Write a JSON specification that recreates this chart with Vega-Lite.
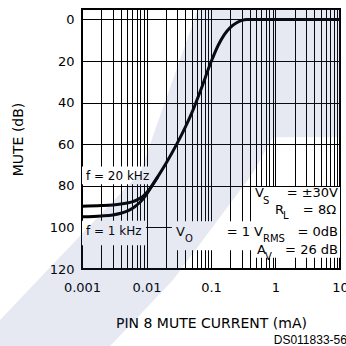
{
  "$schema": "https://vega.github.io/schema/vega-lite/v6.json",
  "width": 258,
  "height": 260,
  "autosize": {"type": "none"},
  "padding": {"left": 82, "top": 9, "right": 6, "bottom": 77},
  "background": "white",
  "config": {
    "view": {"stroke": "#000", "strokeWidth": 2},
    "font": "DejaVu Sans",
    "text": {"font": "DejaVu Sans", "color": "#000"}
  },
  "datasets": {
    "curves": [
      {"f": "20 kHz", "I": 0.001, "dB": 89.8},
      {"f": "20 kHz", "I": 0.002, "dB": 89.5},
      {"f": "20 kHz", "I": 0.003, "dB": 89.2},
      {"f": "20 kHz", "I": 0.004, "dB": 88.8},
      {"f": "20 kHz", "I": 0.005, "dB": 88.3},
      {"f": "20 kHz", "I": 0.006, "dB": 87.7},
      {"f": "20 kHz", "I": 0.007, "dB": 86.9},
      {"f": "20 kHz", "I": 0.008, "dB": 85.9},
      {"f": "20 kHz", "I": 0.009, "dB": 84.8},
      {"f": "20 kHz", "I": 0.01, "dB": 83.4},
      {"f": "20 kHz", "I": 0.012, "dB": 80.2},
      {"f": "20 kHz", "I": 0.015, "dB": 75.6},
      {"f": "20 kHz", "I": 0.02, "dB": 69.3},
      {"f": "20 kHz", "I": 0.03, "dB": 59.5},
      {"f": "20 kHz", "I": 0.04, "dB": 51.8},
      {"f": "20 kHz", "I": 0.05, "dB": 45.2},
      {"f": "20 kHz", "I": 0.07, "dB": 33.6},
      {"f": "20 kHz", "I": 0.1, "dB": 20.5},
      {"f": "20 kHz", "I": 0.13, "dB": 12.3},
      {"f": "20 kHz", "I": 0.16, "dB": 7.4},
      {"f": "20 kHz", "I": 0.2, "dB": 3.8},
      {"f": "20 kHz", "I": 0.25, "dB": 1.6},
      {"f": "20 kHz", "I": 0.3, "dB": 0.5},
      {"f": "20 kHz", "I": 0.36, "dB": 0.05},
      {"f": "20 kHz", "I": 0.45, "dB": 0},
      {"f": "20 kHz", "I": 1, "dB": 0},
      {"f": "20 kHz", "I": 10, "dB": 0},
      {"f": "1 kHz", "I": 0.001, "dB": 94.9},
      {"f": "1 kHz", "I": 0.002, "dB": 94.5},
      {"f": "1 kHz", "I": 0.003, "dB": 94.0},
      {"f": "1 kHz", "I": 0.004, "dB": 93.2},
      {"f": "1 kHz", "I": 0.005, "dB": 92.2},
      {"f": "1 kHz", "I": 0.006, "dB": 90.9},
      {"f": "1 kHz", "I": 0.007, "dB": 89.4},
      {"f": "1 kHz", "I": 0.008, "dB": 87.8},
      {"f": "1 kHz", "I": 0.009, "dB": 86.0},
      {"f": "1 kHz", "I": 0.01, "dB": 84.1},
      {"f": "1 kHz", "I": 0.012, "dB": 80.3},
      {"f": "1 kHz", "I": 0.015, "dB": 75.6}
    ],
    "boxes": [
      {"x1": 0.001, "x2": 0.0113, "y1": 70.7, "y2": 79.3},
      {"x1": 0.001, "x2": 0.0098, "y1": 96.8, "y2": 108.6},
      {"x1": 0.427, "x2": 10, "y1": 80.6, "y2": 114.6},
      {"x1": 0.0247, "x2": 0.43, "y1": 97.0, "y2": 111.0}
    ],
    "flabels": [
      {"t": "f = 20 kHz", "x": 0.00115, "y": 75.3},
      {"t": "f = 1 kHz", "x": 0.00115, "y": 101.8}
    ],
    "mainL": [
      {"t": "V", "x": 0.481, "y": 83.6},
      {"t": "R", "x": 0.982, "y": 91.5},
      {"t": "V", "x": 0.0286, "y": 102.2},
      {"t": "A", "x": 0.516, "y": 110.8}
    ],
    "subL": [
      {"t": "S", "x": 0.64, "y": 87.5},
      {"t": "L", "x": 1.307, "y": 94.5},
      {"t": "O", "x": 0.0395, "y": 105.4},
      {"t": "RMS", "x": 0.64, "y": 105.4},
      {"t": "V", "x": 0.687, "y": 114.0}
    ],
    "mainR": [
      {"t": "=  ±30V", "x": 9.31, "y": 83.6},
      {"t": "=  8Ω", "x": 8.7, "y": 91.5},
      {"t": "=  1 V", "x": 0.64, "y": 102.2},
      {"t": "=  0dB", "x": 9.31, "y": 102.2},
      {"t": "=  26 dB", "x": 9.31, "y": 110.8}
    ],
    "code": [
      {"t": "DS011833-56", "x": 12.8, "y": 154}
    ],
    "tint": [
      {"wy": -5, "wl": 0.0628, "wr": 10},
      {"wy": 56.57, "wl": 0.01244, "wr": 10},
      {"wy": 56.6, "wl": 0.01243, "wr": 0.914},
      {"wy": 73.86, "wl": 0.00793, "wr": 0.448},
      {"wy": 125.3, "wl": 0.000208, "wr": 0.02576},
      {"wy": 144.5, "wl": 0.0000536, "wr": 0.00664},
      {"wy": 157, "wl": 0.0000536, "wr": 0.00272}
    ]
  },
  "layer": [
    {
      "data": {"name": "boxes"},
      "mark": {"type": "rect", "fill": "white", "stroke": null},
      "encoding": {
        "x": {"field": "x1", "type": "quantitative", "scale": {"type": "log", "domain": [0.001, 10]},
          "axis": {
            "values": [0.001,0.002,0.003,0.004,0.005,0.006,0.007,0.008,0.009,0.01,0.02,0.03,0.04,0.05,0.06,0.07,0.08,0.09,0.1,0.2,0.3,0.4,0.5,0.6,0.7,0.8,0.9,1,2,3,4,5,6,7,8,9,10],
            "format": "~g",
            "labelExpr": "indexof(['0.001','0.01','0.1','1','10'], datum.label) >= 0 ? datum.label : ''",
            "grid": true, "gridColor": "#000", "gridWidth": 1, "gridOpacity": 1,
            "ticks": false, "domain": false,
            "labelFont": "DejaVu Sans", "labelFontSize": 13, "labelColor": "#000", "labelPadding": 12,
            "labelOverlap": false, "labelBound": false, "labelFlush": false,
            "title": "PIN 8 MUTE CURRENT (mA)", "titleFont": "DejaVu Sans", "titleFontSize": 14,
            "titleFontWeight": "normal", "titleColor": "#000", "titlePadding": 22
          }},
        "x2": {"field": "x2"},
        "y": {"field": "y1", "type": "quantitative", "scale": {"domain": [-5, 120], "reverse": true, "nice": false, "zero": false},
          "axis": {
            "values": [0,10,20,30,40,50,60,70,80,90,100,110,120],
            "labelExpr": "datum.value % 20 == 0 ? datum.label : ''",
            "grid": true, "gridColor": "#000", "gridWidth": 1, "gridOpacity": 1,
            "ticks": false, "domain": false,
            "labelFont": "DejaVu Sans", "labelFontSize": 13, "labelColor": "#000", "labelPadding": 8,
            "labelOverlap": false,
            "title": "MUTE (dB)", "titleFont": "DejaVu Sans", "titleFontSize": 14,
            "titleFontWeight": "normal", "titleColor": "#000", "titlePadding": 24
          }},
        "y2": {"field": "y2"}
      }
    },
    {
      "data": {"name": "curves"},
      "mark": {"type": "line", "color": "#000", "strokeWidth": 3, "interpolate": "monotone"},
      "encoding": {
        "x": {"field": "I", "type": "quantitative"},
        "y": {"field": "dB", "type": "quantitative"},
        "detail": {"field": "f"}
      }
    },
    {
      "data": {"name": "flabels"},
      "mark": {"type": "text", "align": "left", "baseline": "middle", "fontSize": 12},
      "encoding": {
        "x": {"field": "x", "type": "quantitative"},
        "y": {"field": "y", "type": "quantitative"},
        "text": {"field": "t"}
      }
    },
    {
      "data": {"name": "mainL"},
      "mark": {"type": "text", "align": "left", "baseline": "middle", "fontSize": 13},
      "encoding": {
        "x": {"field": "x", "type": "quantitative"},
        "y": {"field": "y", "type": "quantitative"},
        "text": {"field": "t"}
      }
    },
    {
      "data": {"name": "subL"},
      "mark": {"type": "text", "align": "left", "baseline": "middle", "fontSize": 10},
      "encoding": {
        "x": {"field": "x", "type": "quantitative"},
        "y": {"field": "y", "type": "quantitative"},
        "text": {"field": "t"}
      }
    },
    {
      "data": {"name": "mainR"},
      "mark": {"type": "text", "align": "right", "baseline": "middle", "fontSize": 13},
      "encoding": {
        "x": {"field": "x", "type": "quantitative"},
        "y": {"field": "y", "type": "quantitative"},
        "text": {"field": "t"}
      }
    },
    {
      "data": {"name": "code"},
      "mark": {"type": "text", "align": "right", "baseline": "middle", "fontSize": 12, "font": "Liberation Sans", "clip": false},
      "encoding": {
        "x": {"field": "x", "type": "quantitative"},
        "y": {"field": "y", "type": "quantitative"},
        "text": {"field": "t"}
      }
    },
    {
      "data": {"name": "tint"},
      "mark": {"type": "area", "orient": "horizontal", "fill": "#3e529b", "opacity": 0.13, "interpolate": "linear", "clip": false},
      "encoding": {
        "y": {"field": "wy", "type": "quantitative", "sort": null},
        "x": {"field": "wl", "type": "quantitative"},
        "x2": {"field": "wr"}
      }
    }
  ]
}
